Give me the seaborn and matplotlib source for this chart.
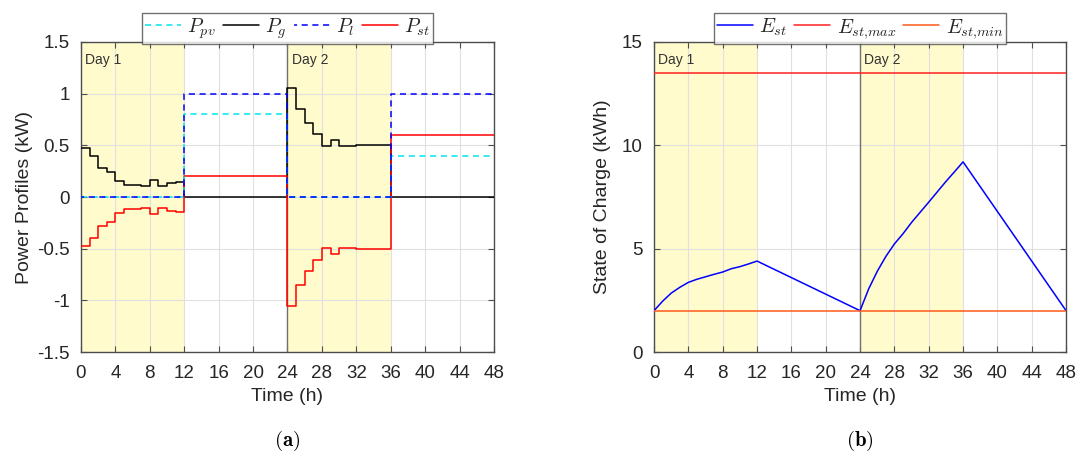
import numpy as np
import pandas as pd
import matplotlib
matplotlib.use("Agg")
import matplotlib.pyplot as plt
import seaborn as sns

# ---------------- data ----------------
hours = list(range(49))

# hourly power profiles (kW); last value repeated so the stairs reach 48 h
p_pv = [0.0]*12 + [0.8]*12 + [0.0]*12 + [0.4]*12 + [0.4]
p_l = [0.0]*12 + [1.0]*12 + [0.0]*12 + [1.0]*12 + [1.0]
p_g = ([0.47, 0.40, 0.28, 0.245, 0.155, 0.12, 0.12, 0.11, 0.16, 0.105, 0.135, 0.147]
       + [0.0]*12
       + [1.05, 0.85, 0.72, 0.61, 0.49, 0.55, 0.49, 0.495, 0.5, 0.5, 0.5, 0.5]
       + [0.0]*12 + [0.0])
p_st = ([-0.47, -0.40, -0.28, -0.245, -0.155, -0.12, -0.12, -0.11, -0.16, -0.105, -0.135, -0.147]
        + [0.2]*12
        + [-1.05, -0.85, -0.72, -0.61, -0.49, -0.55, -0.49, -0.495, -0.5, -0.5, -0.5, -0.5]
        + [0.6]*12 + [0.6])

# state of charge (kWh)
e_st = [2.0, 2.46, 2.85, 3.13, 3.37, 3.52, 3.64, 3.76, 3.87, 4.03, 4.13, 4.26, 4.40,
        4.20, 4.00, 3.80, 3.60, 3.40, 3.20, 3.00, 2.80, 2.60, 2.40, 2.20, 2.00,
        3.05, 3.90, 4.62, 5.23, 5.72, 6.27, 6.76, 7.25, 7.75, 8.25, 8.72, 9.20,
        8.60, 8.00, 7.40, 6.80, 6.20, 5.60, 5.00, 4.40, 3.80, 3.20, 2.60, 2.00]
e_max = [13.5]*49
e_min = [2.0]*49

day_spans = [(0, 12, "Day 1"), (24, 36, "Day 2")]
xticks = list(range(0, 49, 4))

df = pd.DataFrame({"t": hours, "pv": p_pv, "g": p_g, "l": p_l, "st": p_st,
                   "e": e_st, "emax": e_max, "emin": e_min})

# ---------------- style ----------------
sns.set_theme(style="white")
plt.rcParams["font.family"] = ["Liberation Sans", "DejaVu Sans"]
plt.rcParams["mathtext.fontset"] = "cm"
frame_col = "#4d4d4d"
text_col = "#262626"

fig = plt.figure(figsize=(10.8, 4.59), dpi=100)
ax1 = fig.add_axes([0.075, 0.2331, 0.3824, 0.6754])
ax2 = fig.add_axes([0.6056, 0.2331, 0.3815, 0.6754])

def style_axes(ax):
    for s0, s1, lab in day_spans:
        ax.axvspan(s0, s1, color="#FFFBCC", zorder=0, lw=0)
        ax.text(s0 + 0.5, 0.965, lab, transform=ax.get_xaxis_transform(),
                ha="left", va="top", fontsize=10, color="#333333", zorder=5)
    ax.axvline(24, color="#707070", lw=1.0, zorder=1)
    ax.grid(True, color="#e0e0e0", lw=0.8, zorder=0.5)
    ax.set_axisbelow(True)
    for sp in ax.spines.values():
        sp.set_color(frame_col)
        sp.set_linewidth(1.0)
    ax.tick_params(direction="in", length=4, width=0.8, colors=frame_col,
                   labelcolor=text_col, labelsize=13.5, top=True, right=True,
                   bottom=True, left=True)
    ax.tick_params(axis="x", pad=9)
    ax.tick_params(axis="y", pad=8)
    ax.set_xlim(0, 48)
    ax.set_xticks(xticks)
    ax.set_xlabel("Time (h)", fontsize=14, color=text_col, labelpad=5)

legend_kw = dict(loc="lower center", bbox_to_anchor=(0.5, 0.995), frameon=True,
                 fancybox=False, fontsize=14.5, handlelength=1.8, handletextpad=0.3,
                 columnspacing=0.35, borderpad=0.15, borderaxespad=0.0)

# ---------------- left panel ----------------
style_axes(ax1)
sns.lineplot(data=df, x="t", y="g", ax=ax1, color="black", lw=1.1,
             drawstyle="steps-post", label=r"$P_g$", legend=False, zorder=3)
sns.lineplot(data=df, x="t", y="st", ax=ax1, color="#ff0000", lw=1.1,
             drawstyle="steps-post", label=r"$P_{st}$", legend=False, zorder=3)
sns.lineplot(data=df, x="t", y="pv", ax=ax1, color="#00e5ee", lw=1.1, linestyle=(0, (4, 3)),
             drawstyle="steps-post", label=r"$P_{pv}$", legend=False, zorder=4)
sns.lineplot(data=df, x="t", y="l", ax=ax1, color="#0000ff", lw=1.1, linestyle=(2, (4, 3)),
             drawstyle="steps-post", label=r"$P_l$", legend=False, zorder=4)
ax1.set_ylim(-1.5, 1.5)
ax1.set_yticks([-1.5, -1, -0.5, 0, 0.5, 1, 1.5])
ax1.set_yticklabels(["-1.5", "-1", "-0.5", "0", "0.5", "1", "1.5"])
ax1.set_ylabel("Power Profiles (kW)", fontsize=14, color=text_col, labelpad=3)

h, l = ax1.get_legend_handles_labels()
order = [r"$P_{pv}$", r"$P_g$", r"$P_l$", r"$P_{st}$"]
hmap = dict(zip(l, h))
leg1 = ax1.legend([hmap[k] for k in order], order, ncol=4, **legend_kw)
leg1.get_frame().set_edgecolor(frame_col)
leg1.get_frame().set_linewidth(1.0)

# ---------------- right panel ----------------
style_axes(ax2)
sns.lineplot(data=df, x="t", y="e", ax=ax2, color="#0000ff", lw=1.1,
             label=r"$E_{st}$", legend=False, zorder=3)
sns.lineplot(data=df, x="t", y="emax", ax=ax2, color="#ff2020", lw=1.1,
             label=r"$E_{st{,}max}$", legend=False, zorder=3)
sns.lineplot(data=df, x="t", y="emin", ax=ax2, color="#ff5a1a", lw=1.1,
             label=r"$E_{st{,}min}$", legend=False, zorder=3)
ax2.set_ylim(0, 15)
ax2.set_yticks([0, 5, 10, 15])
ax2.set_ylabel("State of Charge (kWh)", fontsize=14, color=text_col, labelpad=8)
leg2 = ax2.legend(ncol=3, **legend_kw)
leg2.get_frame().set_edgecolor(frame_col)
leg2.get_frame().set_linewidth(1.0)

# captions
fig.text(0.2662, 0.012, r"$(\mathbf{a})$", ha="center", va="bottom", fontsize=15, color="black")
fig.text(0.7963, 0.012, r"$(\mathbf{b})$", ha="center", va="bottom", fontsize=15, color="black")

fig.savefig("out.png", dpi=100)
